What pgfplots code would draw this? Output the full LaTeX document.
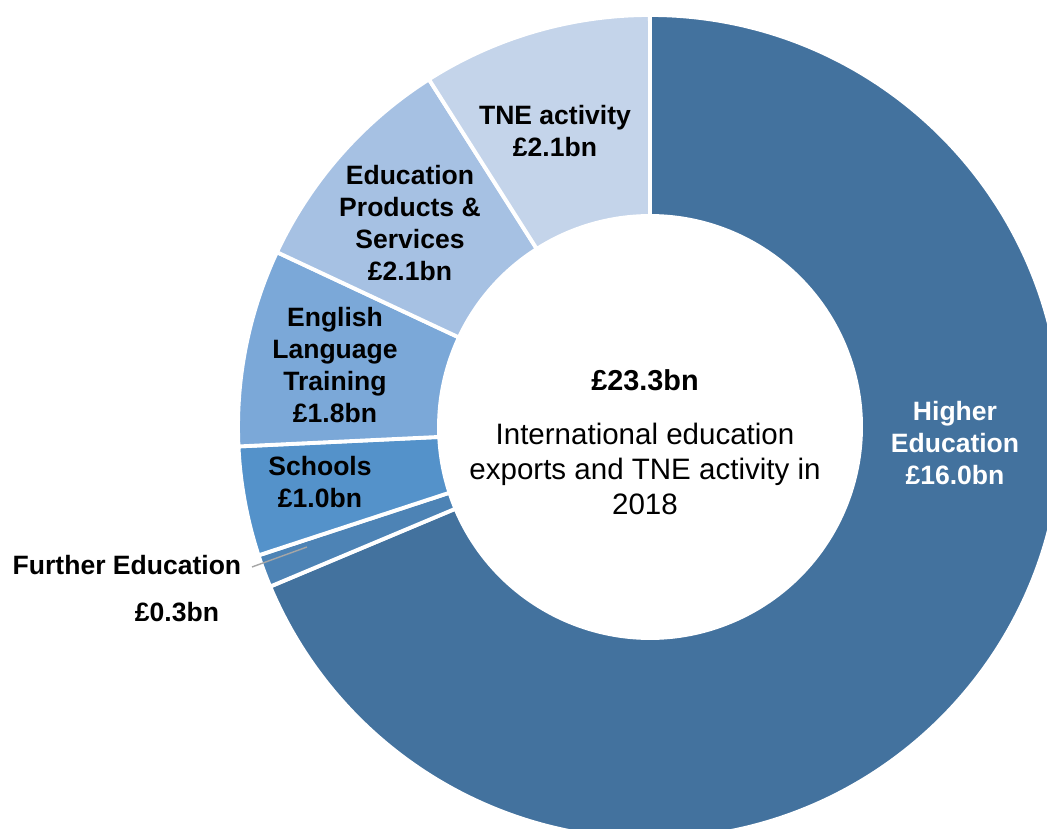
\documentclass[border=0pt]{standalone}
\usepackage{pgfplots}
\pgfplotsset{compat=1.18}
\usepackage{fontspec}
\setmainfont{Liberation Sans}

\definecolor{cHE}{RGB}{67,114,158}
\definecolor{cFE}{RGB}{77,131,181}
\definecolor{cSch}{RGB}{84,146,202}
\definecolor{cELT}{RGB}{123,168,216}
\definecolor{cEPS}{RGB}{166,193,227}
\definecolor{cTNE}{RGB}{196,212,234}

\tikzset{lbl/.style={font=\bfseries\fontsize{7.55}{9.1}\selectfont, align=center, inner sep=0pt}}

% values in £bn, clockwise from 12 o'clock
\def\vHE{16.0}
\def\vFE{0.3}
\def\vSch{1.0}
\def\vELT{1.8}
\def\vEPS{2.1}
\def\vTNE{2.1}

\pgfmathsetmacro\tot{\vHE+\vFE+\vSch+\vELT+\vEPS+\vTNE}
\pgfmathsetmacro\aA{90}
\pgfmathsetmacro\aB{\aA-\vHE/\tot*360}
\pgfmathsetmacro\aC{\aB-\vFE/\tot*360}
\pgfmathsetmacro\aD{\aC-\vSch/\tot*360}
\pgfmathsetmacro\aE{\aD-\vELT/\tot*360}
\pgfmathsetmacro\aF{\aE-\vEPS/\tot*360}
\pgfmathsetmacro\aG{\aF-\vTNE/\tot*360}

% outer / inner radius in axis units (1 unit = 0.01cm)
\def\Ro{412}
\def\Ri{211}

\newcommand\slice[3]{%
  \fill[#3, draw=white, line width=1.1pt]
    (axis cs:{\Ro*cos(#1)},{\Ro*sin(#1)})
    arc[start angle=#1, end angle=#2, radius=4.12cm]
    -- (axis cs:{\Ri*cos(#2)},{\Ri*sin(#2)})
    arc[start angle=#2, end angle=#1, radius=2.11cm] -- cycle;}

\begin{document}
\begin{tikzpicture}
\begin{axis}[
    scale only axis,
    width=10.47cm, height=8.29cm,
    xmin=-650, xmax=397,
    ymin=-402, ymax=427,
    axis lines=none, ticks=none,
    clip=true,
]
\slice{\aA}{\aB}{cHE}
\slice{\aB}{\aC}{cFE}
\slice{\aC}{\aD}{cSch}
\slice{\aD}{\aE}{cELT}
\slice{\aE}{\aF}{cEPS}
\slice{\aF}{\aG}{cTNE}

\node[lbl] at (axis cs:-95,296) {TNE activity\\£2.1bn};
\node[lbl] at (axis cs:-240,204) {Education\\Products \&\\Services\\£2.1bn};
\node[lbl] at (axis cs:-315,62) {English\\Language\\Training\\£1.8bn};
\node[lbl] at (axis cs:-330,-55) {Schools\\£1.0bn};
\node[lbl, anchor=west] at (axis cs:-638,-138) {Further Education};
\node[lbl] at (axis cs:-473,-185) {£0.3bn};
\draw[gray!70, line width=0.4pt] (axis cs:-398,-140) -- (axis cs:-343,-120);
\node[lbl, text=white] at (axis cs:305,-16) {Higher\\Education\\£16.0bn};

\node[font=\bfseries\fontsize{8.2}{9.9}\selectfont, inner sep=0pt] at (axis cs:-5,47) {£23.3bn};
\node[font=\fontsize{8.4}{9.9}\selectfont, align=center, inner sep=0pt] at (axis cs:-5,-42)
  {International education\\exports and TNE activity in\\2018};
\end{axis}
\pgfresetboundingbox
\path[use as bounding box] (current axis.south west) rectangle (current axis.north east);
\end{tikzpicture}
\end{document}
